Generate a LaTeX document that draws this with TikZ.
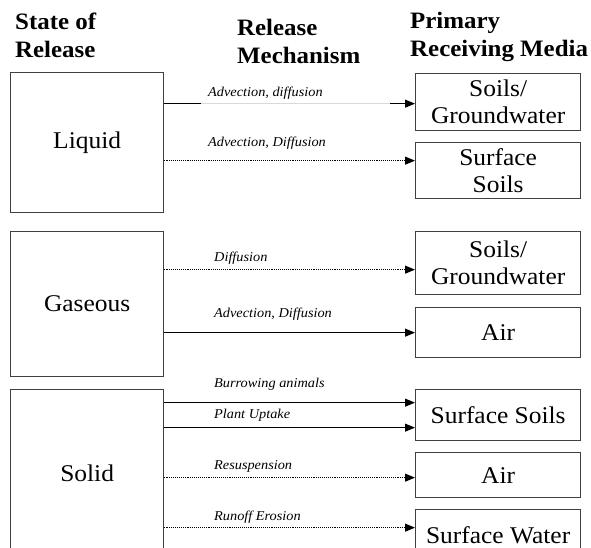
\documentclass[tikz,border=0pt]{standalone}
\usepackage{fontspec}
\setmainfont{Liberation Serif}[FakeStretch=1.06]
\usetikzlibrary{arrows.meta}
\begin{document}
\begin{tikzpicture}[x=1pt,y=-1pt,
 box/.style={draw=black!75, line width=1.3pt, inner sep=0pt, font=\fontsize{24}{27}\selectfont, align=center, anchor=north west},
 lbox/.style={box, minimum width=153pt},
 rbox/.style={box, minimum width=165pt},
 hdr/.style={font=\bfseries\fontsize{23.5}{28}\selectfont, align=left, anchor=north west, inner sep=0pt},
 lab/.style={font=\itshape\fontsize{13.5}{15}\selectfont, anchor=west, inner sep=0pt},
 flow/.style={line width=1.1pt, -{Triangle[length=10pt,width=8pt]}},
 dflow/.style={flow, densely dotted},
]
\useasboundingbox (0,0) rectangle (591,548);
% headers
\node[hdr] (h1) at (15,13) {State of\\Release};
\node[hdr] (h2) at (237,19) {Release\\Mechanism};
\node[hdr] (h3) at (410,12) {Primary\\Receiving Media};
% left boxes
\node[lbox, minimum height=140pt] (liq) at (10,72) {Liquid};
\node[lbox, minimum height=145pt] (gas) at (10,231) {Gaseous};
\node[lbox, minimum height=168pt] (sol) at (10,389) {Solid};
% right boxes
\node[rbox, minimum height=57pt] (r1) at (415,73) {Soils/\\Groundwater};
\node[rbox, minimum height=56pt] (r2) at (415,142) {Surface\\Soils};
\node[rbox, minimum height=63pt] (r3) at (415,231) {Soils/\\Groundwater};
\node[rbox, minimum height=50pt] (r4) at (415,307) {Air};
\node[rbox, minimum height=51pt] (r5) at (415,389) {Surface Soils};
\node[rbox, minimum height=45pt] (r6) at (415,452) {Air};
\node[rbox, minimum height=52pt] (r7) at (415,509) {Surface Water};
% arrow end points
\path ([yshift=-1.5pt]r1.west) coordinate (e1)
      ([yshift=10pt]r2.west) coordinate (e2)
      ([yshift=-6.5pt]r3.west) coordinate (e3)
      (r4.west) coordinate (e4)
      ([yshift=12.5pt]r5.west) coordinate (e5a)
      ([yshift=-12.5pt]r5.west) coordinate (e5b)
      ([yshift=-2.5pt]r6.west) coordinate (e6)
      ([yshift=8pt]r7.west) coordinate (e7);
% connectors
\draw[line width=1.1pt, gray!30] (liq.east |- e1) -- (e1);
\draw[line width=1.1pt] (liq.east |- e1) -- ++(37,0);
\draw[flow] ([xshift=-25pt]e1) -- (e1);
\draw[dflow] (liq.east |- e2) -- (e2);
\draw[dflow] (gas.east |- e3) -- (e3);
\draw[flow] (gas.east |- e4) -- (e4);
\draw[flow] (sol.east |- e5a) -- (e5a);
\draw[flow] (sol.east |- e5b) -- (e5b);
\draw[dflow] (sol.east |- e6) -- (e6);
\draw[dflow] (sol.east |- e7) -- (e7);
% labels
\node[lab] (l1) at (208,93) {Advection, diffusion};
\node[lab] (l2) at (208,143) {Advection, Diffusion};
\node[lab] (l3) at (214,258) {Diffusion};
\node[lab] (l4) at (214,314) {Advection, Diffusion};
\node[lab] (l5) at (214,384) {Burrowing animals};
\node[lab] (l6) at (214,415) {Plant Uptake};
\node[lab] (l7) at (214,466) {Resuspension};
\node[lab] (l8) at (214,517) {Runoff Erosion};
\end{tikzpicture}
\end{document}
